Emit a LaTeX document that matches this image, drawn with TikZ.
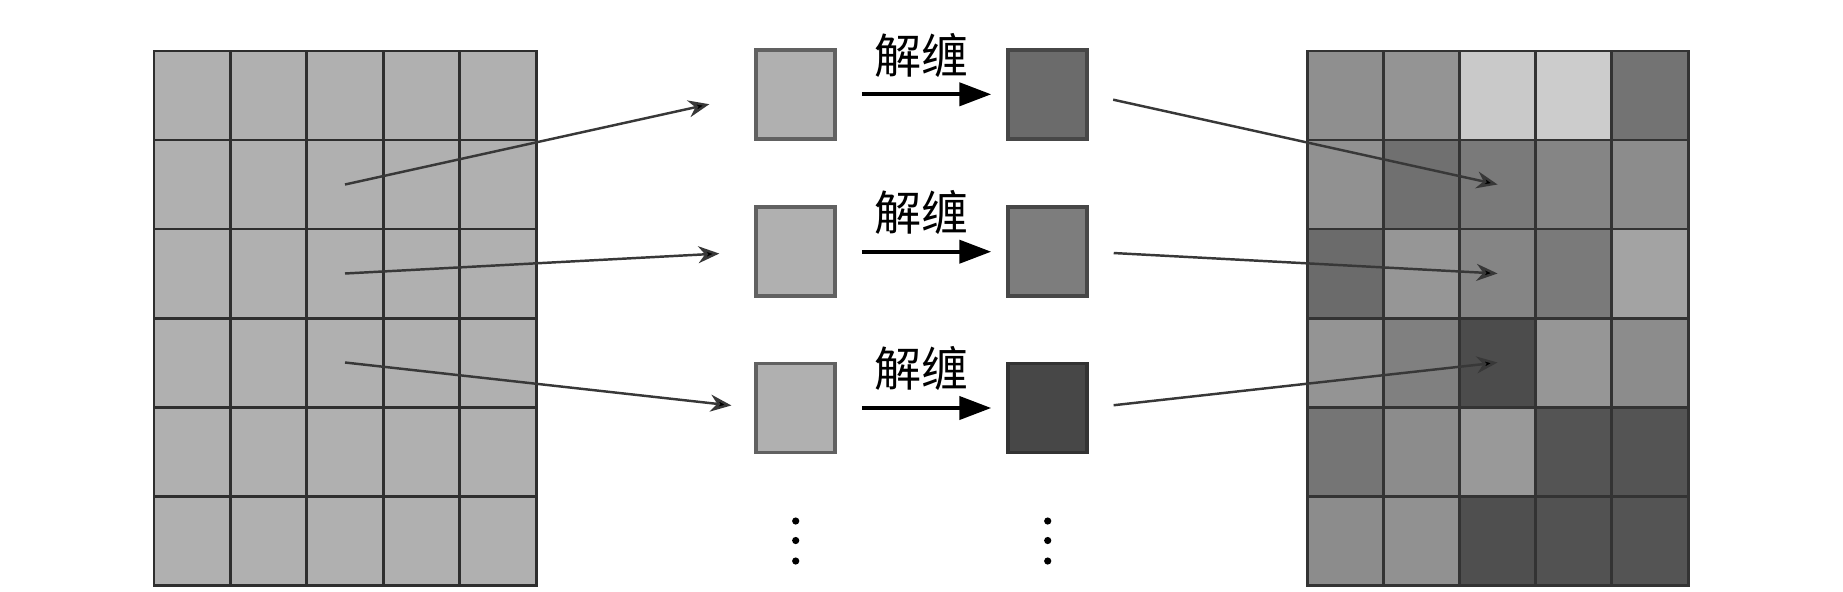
\documentclass[tikz,border=0pt]{standalone}
\usepackage{fontspec}
\newfontfamily\cjk{Noto Sans CJK SC}
\usetikzlibrary{arrows.meta,positioning}

\begin{document}
\begin{tikzpicture}[x=1cm,y=1cm]
\tikzset{
  lcell/.style={draw=black!82,line width=0.85pt,fill=black!31,minimum width=7.64mm,minimum height=8.9mm,inner sep=0pt},
  rcell/.style={draw=black!80,line width=0.85pt,minimum width=7.62mm,minimum height=8.9mm,inner sep=0pt},
  pixbox/.style={draw=black!62,line width=1pt,minimum width=7.9mm,minimum height=8.9mm,inner sep=0pt},
  pointer/.style={-{Stealth[length=2.1mm,width=1.7mm,fill=black]},line width=0.7pt,draw=black!78},
  unwrap/.style={-{Triangle[length=3.2mm,width=2.3mm]},line width=1.2pt},
  unwraplabel/.style={font=\cjk\fontsize{13.4}{16}\selectfont,inner sep=0pt}
}
\useasboundingbox (0,0) rectangle (18.43,5.91);
% wrapped phase map
\foreach \r in {1,...,6}
  \foreach \c in {1,...,5}
    \node[lcell] (l\r\c) at ({1.54+(\c-0.5)*0.764},{5.40-(\r-0.5)*0.89}) {};
% unwrapped phase map
\node[rcell,fill=black!44] (r11) at (13.451,4.955) {};
\node[rcell,fill=black!42] (r12) at (14.213,4.955) {};
\node[rcell,fill=black!21] (r13) at (14.975,4.955) {};
\node[rcell,fill=black!20] (r14) at (15.737,4.955) {};
\node[rcell,fill=black!55] (r15) at (16.499,4.955) {};
\node[rcell,fill=black!43] (r21) at (13.451,4.065) {};
\node[rcell,fill=black!56] (r22) at (14.213,4.065) {};
\node[rcell,fill=black!52] (r23) at (14.975,4.065) {};
\node[rcell,fill=black!48] (r24) at (15.737,4.065) {};
\node[rcell,fill=black!45] (r25) at (16.499,4.065) {};
\node[rcell,fill=black!58] (r31) at (13.451,3.175) {};
\node[rcell,fill=black!41] (r32) at (14.213,3.175) {};
\node[rcell,fill=black!48] (r33) at (14.975,3.175) {};
\node[rcell,fill=black!52] (r34) at (15.737,3.175) {};
\node[rcell,fill=black!36] (r35) at (16.499,3.175) {};
\node[rcell,fill=black!42] (r41) at (13.451,2.285) {};
\node[rcell,fill=black!50] (r42) at (14.213,2.285) {};
\node[rcell,fill=black!70] (r43) at (14.975,2.285) {};
\node[rcell,fill=black!41] (r44) at (15.737,2.285) {};
\node[rcell,fill=black!45] (r45) at (16.499,2.285) {};
\node[rcell,fill=black!54] (r51) at (13.451,1.395) {};
\node[rcell,fill=black!45] (r52) at (14.213,1.395) {};
\node[rcell,fill=black!40] (r53) at (14.975,1.395) {};
\node[rcell,fill=black!67] (r54) at (15.737,1.395) {};
\node[rcell,fill=black!67] (r55) at (16.499,1.395) {};
\node[rcell,fill=black!45] (r61) at (13.451,0.505) {};
\node[rcell,fill=black!43] (r62) at (14.213,0.505) {};
\node[rcell,fill=black!69] (r63) at (14.975,0.505) {};
\node[rcell,fill=black!68] (r64) at (15.737,0.505) {};
\node[rcell,fill=black!67] (r65) at (16.499,0.505) {};
% single pixels before and after
\node[pixbox,fill=black!31] (p1) at (7.955,4.967) {};
\node[pixbox,fill=black!31] (p2) at (7.955,3.393) {};
\node[pixbox,fill=black!31] (p3) at (7.955,1.830) {};
\node[pixbox,fill=black!58,draw=black!72] (q1) at (10.475,4.967) {};
\node[pixbox,fill=black!51,draw=black!72] (q2) at (10.475,3.393) {};
\node[pixbox,fill=black!72,draw=black!80] (q3) at (10.475,1.830) {};
\draw[pointer,shorten >=4.6mm] (l23.center) -- (p1.west);
\draw[pointer,shorten >=3.5mm] (l33.center) -- (p2.west);
\draw[pointer,shorten >=2.3mm] (l43.center) -- (p3.west);
\draw[unwrap,shorten <=2.5mm,shorten >=1.5mm] (p1.east) -- node[unwraplabel,above=1.5mm] {解缠} (q1.west);
\draw[unwrap,shorten <=2.5mm,shorten >=1.5mm] (p2.east) -- node[unwraplabel,above=1.5mm] {解缠} (q2.west);
\draw[unwrap,shorten <=2.5mm,shorten >=1.5mm] (p3.east) -- node[unwraplabel,above=1.5mm] {解缠} (q3.west);
\draw[pointer,shorten <=2.5mm] (q1.east) -- (r23.center);
\draw[pointer,shorten <=2.5mm] (q2.east) -- (r33.center);
\draw[pointer,shorten <=2.5mm] (q3.east) -- (r43.center);
% more pixels
\foreach \y in {0.70,0.505,0.30} {
  \fill (7.957,\y) circle (0.036);
  \fill (10.477,\y) circle (0.036);
}
\end{tikzpicture}
\end{document}
